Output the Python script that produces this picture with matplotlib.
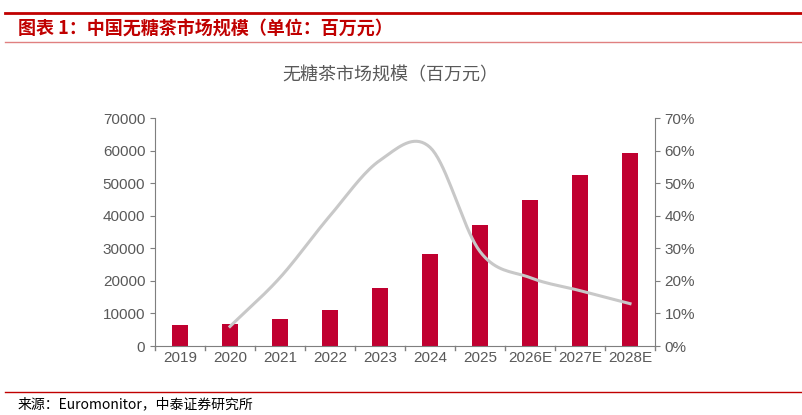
import matplotlib
matplotlib.use("Agg")
import matplotlib.pyplot as plt
import numpy as np
from matplotlib.ticker import FuncFormatter

plt.rcParams['font.family'] = ['Liberation Sans', 'Noto Sans CJK SC', 'DejaVu Sans']

years = ["2019", "2020", "2021", "2022", "2023", "2024", "2025", "2026E", "2027E", "2028E"]
market = [6500, 6800, 8200, 11200, 17700, 28100, 37000, 44800, 52400, 59200]
growth = [None, 0.06, 0.21, 0.40, 0.57, 0.61, 0.29, 0.21, 0.17, 0.13]

fig = plt.figure(figsize=(8.03, 4.15), dpi=100)
ax = fig.add_axes([155/803, 1-346/415, 500/803, 228/415])
x = np.arange(len(years))
ax.bar(x, market, width=0.32, color='#C00030')
ax.set_ylim(0, 70000)
ax.set_xlim(-0.5, len(years)-0.5)
ax.set_yticks(range(0, 70001, 10000))
ax.set_xticks(x)
ax.set_xticklabels(years)
gray = '#7f7f7f'
for s in ['top', 'right']:
    ax.spines[s].set_visible(False)
for s in ['left', 'bottom']:
    ax.spines[s].set_color(gray)
ax.tick_params(colors='#595959', labelsize=11, color=gray)
ax.tick_params(axis='x', length=0)
for b in np.arange(-0.5, len(years), 1):
    ax.plot([b, b], [0, -1200], color=gray, lw=1, clip_on=False)

ax2 = ax.twinx()
ax2.set_ylim(0, 0.7)
ax2.set_yticks(np.arange(0, 0.71, 0.1))
ax2.yaxis.set_major_formatter(FuncFormatter(lambda v, p: f"{v*100:.0f}%"))
for s in ['top', 'left', 'bottom']:
    ax2.spines[s].set_visible(False)
ax2.spines['right'].set_color(gray)
ax2.tick_params(colors='#595959', labelsize=11, color=gray)

gx = np.array([i for i, g in enumerate(growth) if g is not None], float)
gy = np.array([g for g in growth if g is not None])
# Catmull-Rom smoothing for display
px = np.concatenate([[2*gx[0]-gx[1]], gx, [2*gx[-1]-gx[-2]]])
py = np.concatenate([[2*gy[0]-gy[1]], gy, [2*gy[-1]-gy[-2]]])
sx, sy = [], []
for i in range(1, len(px)-2):
    t = np.linspace(0, 1, 20)
    for arr, out in ((px, sx), (py, sy)):
        p0, p1, p2, p3 = arr[i-1], arr[i], arr[i+1], arr[i+2]
        out.extend(0.5*((2*p1) + (-p0+p2)*t + (2*p0-5*p1+4*p2-p3)*t**2 + (-p0+3*p1-3*p2+p3)*t**3))
ax2.plot(sx, sy, color='#C8C8C8', lw=2.2)

fig.text(390/803, 1-75/415, "无糖茶市场规模（百万元）", ha='center', va='center', fontsize=13,
         color='#595959', family=['Noto Sans CJK SC'])
fig.add_artist(plt.Line2D([5/803, 1], [1-13/415]*2, color='#C00000', lw=2))
fig.add_artist(plt.Line2D([5/803, 1], [1-42/415]*2, color='#E08080', lw=1))
fig.text(18/803, 1-29/415, "图表 1：中国无糖茶市场规模（单位：百万元）", fontsize=13, color='#C00000',
         fontweight='bold', style='italic', va='center', family=['Noto Sans CJK SC', 'DejaVu Sans'])
fig.add_artist(plt.Line2D([5/803, 1], [1-392/415]*2, color='#C00000', lw=1))
fig.text(18/803, 1-404/415, "来源：Euromonitor，中泰证券研究所", fontsize=10, color='#000000',
         va='center', family=['Noto Sans CJK SC', 'DejaVu Sans'])
fig.savefig("out.png", dpi=100)
